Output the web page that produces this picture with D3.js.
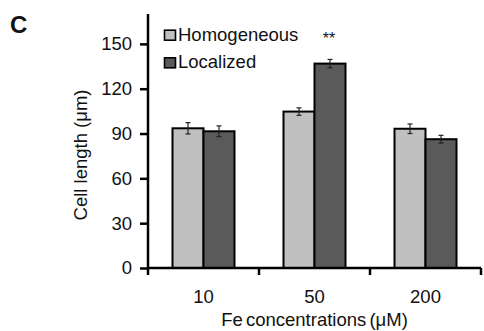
<!DOCTYPE html>
<html>
<head>
<meta charset="utf-8">
<script src="https://cdn.jsdelivr.net/npm/d3@7"></script>
<style>
  body { margin: 0; background: #fff; }
  text { font-family: "Liberation Sans", Arial, sans-serif; fill: #111; }
</style>
</head>
<body>
<svg id="chart" width="484" height="331"></svg>
<script>
const categories = ["10", "50", "200"];
const series = ["Homogeneous", "Localized"];
const colors = ["#c0c0c0", "#5a5a5a"];
const homogeneous = [93.5, 104.7, 93.2];
const localized = [91.5, 136.8, 86.2];
const homogeneousErr = [3.8, 2.5, 3.2];
const localizedErr = [3.6, 2.8, 2.6];
const yTicks = [0, 30, 60, 90, 120, 150];

const values = [homogeneous, localized];
const errors = [homogeneousErr, localizedErr];
const data = [];
categories.forEach((c, i) => {
  series.forEach((s, j) => {
    data.push({ cat: c, series: s, idx: j, value: values[j][i], err: errors[j][i] });
  });
});

const plotLeft = 148, plotRight = 481, plotTop = 14, plotBottom = 268;
const fontSize = 18.5;

const svg = d3.select("#chart");

const x = d3.scaleBand().domain(categories).range([plotLeft, plotRight]).padding(0);
const xs = d3.scaleBand().domain(series).range([24.5, x.bandwidth() - 24.5]).padding(0);
const y = d3.scaleLinear().domain([0, 170]).range([plotBottom, plotTop]);

// bars
const bars = svg.append("g");
bars.selectAll("rect")
  .data(data)
  .join("rect")
  .attr("x", (d) => x(d.cat) + xs(d.series))
  .attr("y", (d) => y(d.value))
  .attr("width", xs.bandwidth())
  .attr("height", (d) => y(0) - y(d.value))
  .attr("fill", (d) => colors[d.idx])
  .attr("stroke", "#000")
  .attr("stroke-width", 2);

// error bars
const eb = svg.append("g").attr("stroke", "#222").attr("stroke-width", 1.2);
data.forEach((d) => {
  const cx = x(d.cat) + xs(d.series) + xs.bandwidth() / 2;
  eb.append("line").attr("x1", cx).attr("x2", cx)
    .attr("y1", y(d.value - d.err)).attr("y2", y(d.value + d.err));
  [d.value - d.err, d.value + d.err].forEach((v) => {
    eb.append("line").attr("x1", cx - 2.5).attr("x2", cx + 2.5)
      .attr("y1", y(v)).attr("y2", y(v));
  });
});

// y axis
const yAxis = svg.append("g")
  .attr("transform", `translate(${plotLeft},0)`)
  .call(d3.axisLeft(y).tickValues(yTicks).tickSize(8).tickPadding(8));
yAxis.select(".domain").attr("d", `M0,${plotBottom}V${plotTop}`).attr("stroke-width", 2.5);
yAxis.selectAll(".tick line").attr("stroke-width", 2.5);
yAxis.selectAll(".tick text").attr("font-size", fontSize).attr("fill", "#111")
  .attr("font-family", "Liberation Sans, Arial, sans-serif");

// x axis
const xAxis = svg.append("g")
  .attr("transform", `translate(0,${plotBottom})`)
  .call(d3.axisBottom(x).tickSize(0).tickPadding(22));
xAxis.select(".domain").attr("d", `M${plotLeft},0H${plotRight}`).attr("stroke-width", 2.5);
xAxis.selectAll(".tick text").attr("font-size", fontSize).attr("fill", "#111")
  .attr("font-family", "Liberation Sans, Arial, sans-serif");
// boundary ticks between groups
const bounds = categories.map((c) => x(c)).concat([plotRight]);
svg.append("g").selectAll("line")
  .data(bounds)
  .join("line")
  .attr("x1", (d) => d).attr("x2", (d) => d)
  .attr("y1", plotBottom).attr("y2", plotBottom + 7)
  .attr("stroke", "#000").attr("stroke-width", 2.5);

// axis titles
svg.append("text")
  .attr("transform", "translate(87,155) rotate(-90)")
  .attr("text-anchor", "middle")
  .attr("font-size", fontSize)
  .text("Cell length (μm)");

svg.append("text")
  .attr("x", (plotLeft + plotRight) / 2)
  .attr("y", 326)
  .attr("text-anchor", "middle")
  .attr("font-size", fontSize)
  .attr("word-spacing", -2)
  .text("Fe concentrations (μM)");

// panel letter
svg.append("text")
  .attr("x", 10)
  .attr("y", 33)
  .attr("font-size", 24)
  .attr("font-weight", "bold")
  .text("C");

// legend
const legend = svg.append("g");
series.forEach((s, j) => {
  const ly = 40.7 + j * 27.6;
  legend.append("rect")
    .attr("x", 164.5).attr("y", ly - 10.5)
    .attr("width", 11).attr("height", 10)
    .attr("fill", colors[j])
    .attr("stroke", "#000").attr("stroke-width", 1.6);
  legend.append("text")
    .attr("x", 178).attr("y", ly)
    .attr("font-size", fontSize)
    .text(s);
});

// significance marker
svg.append("text")
  .attr("x", x("50") + xs("Localized") + xs.bandwidth() / 2 - 1)
  .attr("y", 44)
  .attr("text-anchor", "middle")
  .attr("font-size", 16)
  .text("**");
</script>
</body>
</html>
